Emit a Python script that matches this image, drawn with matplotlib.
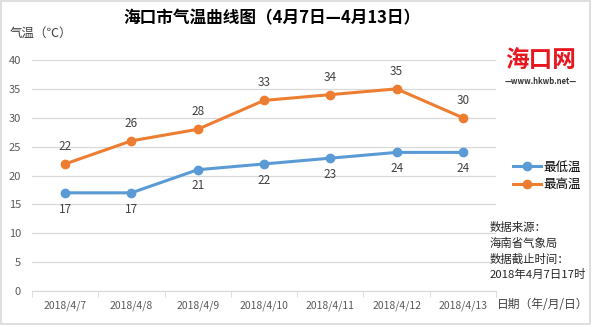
import matplotlib.pyplot as plt
import matplotlib.patches as mpatches

plt.rcParams['font.family'] = ['Noto Sans CJK SC', 'DejaVu Sans']

# 数据
dates = ['2018/4/7', '2018/4/8', '2018/4/9', '2018/4/10', '2018/4/11', '2018/4/12', '2018/4/13']
low_temp = [17, 17, 21, 22, 23, 24, 24]
high_temp = [22, 26, 28, 33, 34, 35, 30]

blue = '#5B9BD5'
orange = '#ED7D31'
tick_color = '#595959'

fig = plt.figure(figsize=(5.92, 3.27), dpi=100)
ax = fig.add_axes([32 / 592, 1 - 291 / 327, 464 / 592, 231 / 327])

x = list(range(len(dates)))
ax.plot(x, low_temp, color=blue, lw=2.2, marker='o', ms=6, label='最低温')
ax.plot(x, high_temp, color=orange, lw=2.2, marker='o', ms=6, label='最高温')

# 数据标签：最高温在上，最低温在下
for i in x:
    ax.annotate(str(high_temp[i]), (i, high_temp[i]), xytext=(0, 8), textcoords='offset points',
                ha='center', va='bottom', fontsize=8.5, color='#404040')
    ax.annotate(str(low_temp[i]), (i, low_temp[i]), xytext=(0, -7), textcoords='offset points',
                ha='center', va='top', fontsize=8.5, color='#404040')

ax.set_xlim(-0.5, len(dates) - 0.5)
ax.set_ylim(0, 40)
ax.set_yticks(range(0, 41, 5))
ax.set_xticks(x)
ax.set_xticklabels(dates)
ax.set_xticks([i - 0.5 for i in range(len(dates) + 1)], minor=True)
ax.tick_params(axis='x', which='major', length=0, labelsize=7.5, colors=tick_color, pad=7)
ax.tick_params(axis='x', which='minor', length=4, color='#D9D9D9')
ax.tick_params(axis='y', length=0, labelsize=8, colors=tick_color, pad=8)
ax.grid(axis='y', color='#D9D9D9', lw=0.9)
ax.set_axisbelow(True)
for s in ['top', 'right', 'left']:
    ax.spines[s].set_visible(False)
ax.spines['bottom'].set_color('#D9D9D9')

# 图例
ax.legend(loc='upper left', bbox_to_anchor=(1.025, 0.585), frameon=False, fontsize=9,
          handlelength=2.3, handletextpad=0.2, labelspacing=0.35, borderaxespad=0)

# 标题与标注文字
fig.text(272 / 592, 1 - 18 / 327, '海口市气温曲线图（4月7日—4月13日）', ha='center', va='center',
         fontsize=12, fontweight='bold', color='black')
fig.text(10 / 592, 1 - 33 / 327, '气温（℃）', ha='left', va='center', fontsize=9, color='#404040')
fig.text(497 / 592, 1 - 304 / 327, '日期（年/月/日）', ha='left', va='center', fontsize=8.5, color='#404040')

notes = ['数据来源：', '海南省气象局', '数据截止时间：', '2018年4月7日17时']
note_y = [227, 243, 259, 274]
for t, yy in zip(notes, note_y):
    fig.text(490 / 592, 1 - yy / 327, t, ha='left', va='center', fontsize=8.2, color='#262626')

# 网站标识
fig.text(541 / 592, 1 - 60 / 327, '海口网', ha='center', va='center', fontsize=17,
         fontweight='bold', color='#E8161E', style='italic')
fig.text(541 / 592, 1 - 82 / 327, '—www.hkwb.net—', ha='center', va='center', fontsize=5.5,
         fontweight='bold', color='#333333')

# 外框
fig.patches.append(mpatches.Rectangle((1 / 592, 1 - 324 / 327), 589 / 592, 323 / 327,
                                      transform=fig.transFigure, fill=False,
                                      edgecolor='#D9D9D9', lw=1.2))

fig.savefig('out.png', dpi=100)
